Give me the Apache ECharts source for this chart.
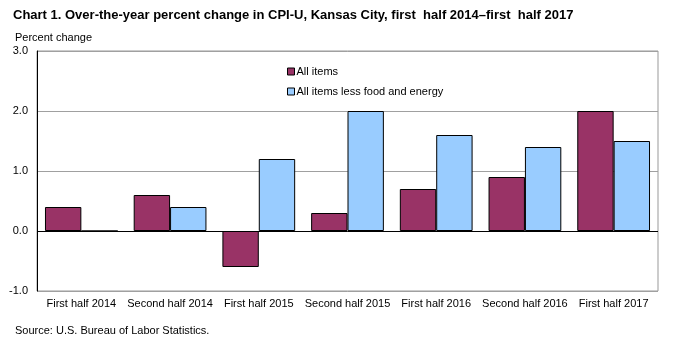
<!DOCTYPE html>
<html>
<head>
<meta charset="utf-8">
<script src="https://cdn.jsdelivr.net/npm/echarts@6/dist/echarts.min.js"></script>
<style>
html,body{margin:0;padding:0;background:#fff;}
#chart{width:677px;height:337px;}
</style>
</head>
<body>
<div id="chart"></div>
<script>
// Half-year periods on the category axis
const periods = ['First half 2014', 'Second half 2014', 'First half 2015', 'Second half 2015', 'First half 2016', 'Second half 2016', 'First half 2017'];
// Over-the-year percent change
const allItems = [0.4, 0.6, -0.6, 0.3, 0.7, 0.9, 2.0];
const coreItems = [0.0, 0.4, 1.2, 2.0, 1.6, 1.4, 1.5];
const yTicks = [-1.0, 0.0, 1.0, 2.0, 3.0];

const font = 'Liberation Sans, Arial, sans-serif';
const chart = echarts.init(document.getElementById('chart'), null, { renderer: 'canvas' });

chart.setOption({
  animation: false,
  backgroundColor: '#ffffff',
  textStyle: { fontFamily: font },
  title: [
    {
      text: 'Chart 1. Over-the-year percent change in CPI-U, Kansas City, first  half 2014\u2013first  half 2017',
      left: 8, top: 4,
      textStyle: { fontFamily: font, fontSize: 13, fontWeight: 'bold', color: '#000' }
    },
    {
      text: 'Percent change',
      left: 10, top: 27,
      textStyle: { fontFamily: font, fontSize: 11, fontWeight: 'normal', color: '#000' }
    },
    {
      text: 'Source: U.S. Bureau of Labor Statistics.',
      left: 10, top: 320,
      textStyle: { fontFamily: font, fontSize: 11, fontWeight: 'normal', color: '#000' }
    }
  ],
  legend: {
    orient: 'vertical',
    left: 282, top: 61,
    itemWidth: 7, itemHeight: 7,
    itemGap: 9,
    icon: 'rect',
    textStyle: { fontFamily: font, fontSize: 11, color: '#000', padding: [0, 0, 0, -3] },
    data: [
      { name: 'All items', itemStyle: { borderColor: '#000', borderWidth: 1 } },
      { name: 'All items less food and energy', itemStyle: { borderColor: '#000', borderWidth: 1 } }
    ]
  },
  grid: { left: 37, right: 19, top: 51, bottom: 46, show: true, borderColor: '#999', borderWidth: 1 },
  xAxis: {
    type: 'category',
    data: periods,
    position: 'bottom',
    axisLine: { show: false },
    axisTick: { show: false },
    axisLabel: { fontFamily: font, fontSize: 11, color: '#000', margin: 7, interval: 0 }
  },
  yAxis: {
    type: 'value',
    min: -1, max: 3, interval: 1,
    axisLine: { show: true, lineStyle: { color: '#000', width: 1 } },
    axisTick: { show: false },
    splitLine: { show: true, lineStyle: { color: '#a0a0a0', width: 1 } },
    axisLabel: {
      fontFamily: font, fontSize: 11, color: '#000', margin: 9,
      formatter: v => yTicks.includes(v) ? v.toFixed(1) : ''
    }
  },
  series: [
    {
      name: 'All items', type: 'bar', data: allItems,
      barGap: '0%', barCategoryGap: '18%',
      itemStyle: { color: '#993366', borderColor: '#000', borderWidth: 1 },
      markLine: {
        silent: true, symbol: 'none', label: { show: false },
        lineStyle: { color: '#000', width: 1, type: 'solid' },
        data: [{ yAxis: 0 }]
      }
    },
    {
      name: 'All items less food and energy', type: 'bar', data: coreItems,
      itemStyle: { color: '#99ccff', borderColor: '#000', borderWidth: 1 }
    }
  ]
});
</script>
</body>
</html>
